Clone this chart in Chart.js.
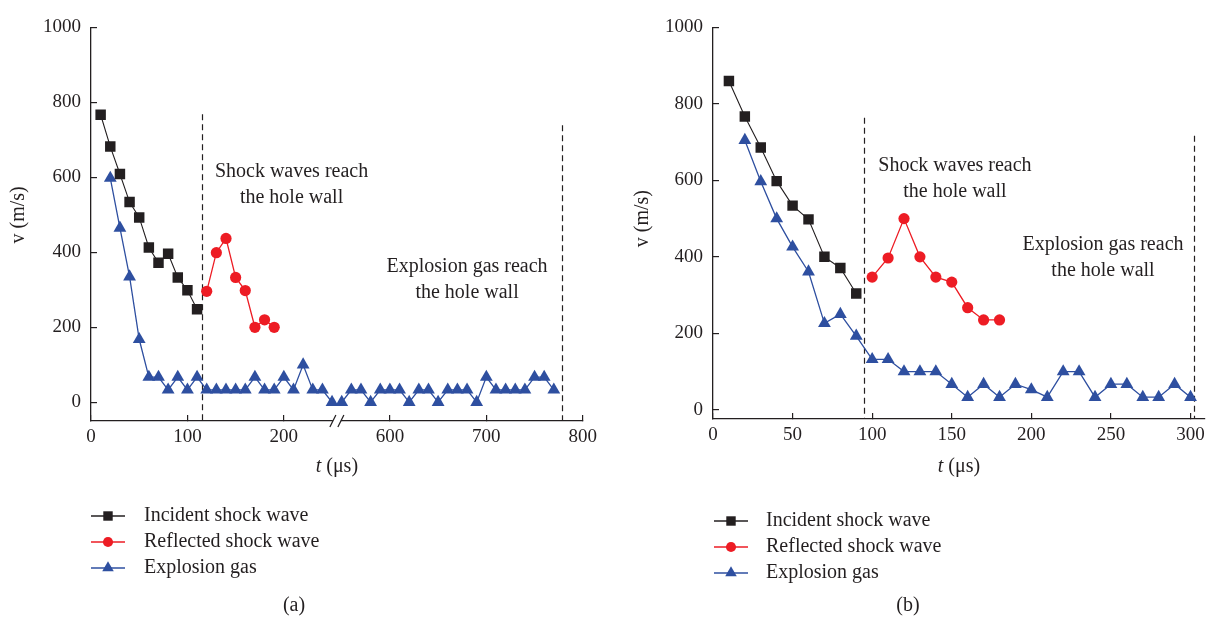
<!DOCTYPE html>
<html>
<head>
<meta charset="utf-8" />
<title>Shock wave and explosion gas velocity</title>
<script src="https://cdn.jsdelivr.net/npm/chart.js@4.4.1/dist/chart.umd.min.js"></script>
<style>
  body { margin: 0; background: #fff; }
  .row { display: flex; width: 1216px; height: 626px; }
  .panel { position: relative; width: 608px; height: 626px; }
</style>
</head>
<body>
<div class="row">
  <div class="panel"><canvas id="chartA"></canvas></div>
  <div class="panel"><canvas id="chartB"></canvas></div>
</div>
<script>
// (a) long record: the time axis is broken between 250 and 550 µs
const incidentTimeA = [10, 20, 30, 40, 50, 60, 70, 80, 90, 100, 110];
const incidentSpeedA = [767, 682, 609, 534, 493, 413, 372, 396, 333, 299, 248];
const reflectedTimeA = [120, 130, 140, 150, 160, 170, 180, 190];
const reflectedSpeedA = [296, 399, 437, 333, 298, 200, 220, 200];
const gasTimeA = [20, 30, 40, 50, 60, 70, 80, 90, 100, 110, 120, 130, 140, 150, 160, 170, 180, 190, 200, 210, 220, 230, 240, 250,
  550, 560, 570, 580, 590, 600, 610, 620, 630, 640, 650, 660, 670, 680, 690, 700, 710, 720, 730, 740, 750, 760, 770];
const gasSpeedA = [598, 465, 335, 168, 67, 67, 33, 67, 33, 67, 33, 33, 33, 33, 33, 67, 33, 33, 67, 33, 100, 33, 33, 0,
  0, 33, 33, 0, 33, 33, 33, 0, 33, 33, 0, 33, 33, 33, 0, 67, 33, 33, 33, 33, 67, 67, 33];
const tickLabelsA = [0, 100, 200, 600, 700, 800];

// (b) short record
const incidentTimeB = [10, 20, 30, 40, 50, 60, 70, 80, 90];
const incidentSpeedB = [860, 767, 686, 598, 534, 498, 400, 371, 304];
const reflectedTimeB = [100, 110, 120, 130, 140, 150, 160, 170, 180];
const reflectedSpeedB = [347, 397, 500, 400, 347, 334, 267, 235, 235];
const gasTimeB = [20, 30, 40, 50, 60, 70, 80, 90, 100, 110, 120, 130, 140, 150, 160, 170, 180, 190, 200, 210,
  220, 230, 240, 250, 260, 270, 280, 290, 300];
const gasSpeedB = [705, 597, 500, 426, 361, 226, 250, 193, 132, 132, 100, 100, 100, 67, 33, 67, 33, 67, 53, 33,
  100, 100, 33, 67, 67, 33, 33, 67, 33];
const tickLabelsB = [0, 50, 100, 150, 200, 250, 300];

const speedTicks = [0, 200, 400, 600, 800, 1000];

const ink = "#231f20";
const serif = "'Liberation Serif', 'Times New Roman', serif";

Chart.defaults.font.family = serif;
Chart.defaults.font.size = 19;
Chart.defaults.color = ink;

// squeeze the empty 250-550 µs stretch of panel (a) into a small gap
const breakFrom = 250;
const breakTo = 550;
const breakGap = 10;
const squeezeA = (t) => (t <= breakFrom ? t : t - (breakTo - breakFrom) + breakGap);
const unsqueezeA = (x) => (x <= breakFrom + breakGap / 2 ? x : x + (breakTo - breakFrom) - breakGap);
const plainX = (t) => t;

const styles = {
  incident: { color: "#231f20", pointStyle: "rect", radius: 7.4, width: 1.1 },
  reflected: { color: "#ed1c24", pointStyle: "circle", radius: 5.6, width: 1.3 },
  gas: { color: "#2e4fa0", pointStyle: "triangle", radius: 7.4, width: 1.3 },
};

function series(label, times, speeds, mapX, style) {
  const points = [];
  times.forEach((t, i) => {
    // leave the line open across the axis break
    if (i > 0 && t - times[i - 1] > 100) {
      points.push({ x: (mapX(times[i - 1]) + mapX(t)) / 2, y: null });
    }
    points.push({ x: mapX(t), y: speeds[i] });
  });
  return {
    label: label,
    data: points,
    borderColor: style.color,
    backgroundColor: style.color,
    pointBackgroundColor: style.color,
    pointBorderWidth: 0,
    pointStyle: style.pointStyle,
    pointRadius: style.radius,
    borderWidth: style.width,
    tension: 0,
    spanGaps: false,
  };
}

// dashed guides, notes, axis titles, axis break and legend
function makeExtras(cfg) {
  return {
    id: "figureExtras",
    beforeDatasetsDraw(chart) {
      const { ctx, chartArea, scales: { x, y } } = chart;
      ctx.save();
      ctx.strokeStyle = ink;
      ctx.lineWidth = 1.2;
      ctx.setLineDash([6, 4]);
      cfg.guides.forEach((g) => {
        const px = Math.round(x.getPixelForValue(cfg.mapX(g.t))) + 0.5;
        ctx.beginPath();
        ctx.moveTo(px, y.getPixelForValue(g.top));
        ctx.lineTo(px, chartArea.bottom);
        ctx.stroke();
      });
      ctx.restore();
    },
    afterDraw(chart) {
      const { ctx, chartArea, scales: { x, y } } = chart;
      const normal = `20px ${serif}`;
      const italic = `italic 20px ${serif}`;
      ctx.save();
      ctx.fillStyle = ink;
      ctx.textBaseline = "middle";
      ctx.textAlign = "center";
      ctx.font = normal;

      cfg.notes.forEach((n) => {
        const px = x.getPixelForValue(cfg.mapX(n.t));
        const py = y.getPixelForValue(n.v);
        n.lines.forEach((line, i) => ctx.fillText(line, px, py + i * 26));
      });

      // y title, centred on the 0-1000 range
      const midY = (y.getPixelForValue(0) + y.getPixelForValue(1000)) / 2;
      ctx.save();
      ctx.translate(cfg.yTitleX, midY);
      ctx.rotate(-Math.PI / 2);
      ctx.fillText("v (m/s)", 0, 0);
      ctx.restore();

      // x title with an italic t
      const cx = (chartArea.left + chartArea.right) / 2;
      ctx.font = italic;
      const wT = ctx.measureText("t").width;
      ctx.font = normal;
      const wRest = ctx.measureText(" (μs)").width;
      const sx = cx - (wT + wRest) / 2;
      ctx.textAlign = "left";
      ctx.font = italic;
      ctx.fillText("t", sx, cfg.xTitleY);
      ctx.font = normal;
      ctx.fillText(" (μs)", sx + wT, cfg.xTitleY);

      if (cfg.breakAt !== undefined) {
        const bx = x.getPixelForValue(cfg.breakAt);
        const by = chartArea.bottom;
        ctx.fillStyle = "#fff";
        ctx.fillRect(bx - 4, by - 2, 8, 4);
        ctx.strokeStyle = ink;
        ctx.lineWidth = 1.2;
        [-4, 4].forEach((dx) => {
          ctx.beginPath();
          ctx.moveTo(bx + dx - 3, by + 6);
          ctx.lineTo(bx + dx + 3, by - 6);
          ctx.stroke();
        });
      }

      const lg = cfg.legend;
      chart.data.datasets.forEach((ds, i) => {
        const ly = lg.top + i * lg.step;
        ctx.strokeStyle = ds.borderColor;
        ctx.lineWidth = 1.4;
        ctx.beginPath();
        ctx.moveTo(lg.left, ly);
        ctx.lineTo(lg.left + 34, ly);
        ctx.stroke();
        ctx.fillStyle = ds.pointBackgroundColor;
        Chart.helpers.drawPoint(
          ctx,
          { pointStyle: ds.pointStyle, radius: ds.pointRadius * 0.9, rotation: 0, borderWidth: 0 },
          lg.left + 17,
          ly
        );
        ctx.fillStyle = ink;
        ctx.font = normal;
        ctx.textAlign = "left";
        ctx.fillText(ds.label, lg.textLeft, ly);
      });
      ctx.restore();
    },
  };
}

function panelOptions(p) {
  return {
    responsive: true,
    maintainAspectRatio: false,
    animation: false,
    events: [],
    layout: {
      padding: { left: 0, right: p.padRight, top: p.padTop, bottom: 0 },
    },
    scales: {
      x: {
        type: "linear",
        min: 0,
        max: p.xMax,
        afterBuildTicks: (scale) => {
          scale.ticks = p.tickLabels.map((v) => ({ value: p.mapX(v) }));
        },
        afterFit: (scale) => {
          scale.height = 60;
        },
        ticks: {
          padding: 11,
          color: ink,
          maxRotation: 0,
          callback: (value) => String(p.unmapX(value)),
        },
        grid: { drawOnChartArea: false, color: ink, lineWidth: 1.2, tickLength: -6 },
        border: { color: ink, width: 1.3 },
      },
      y: {
        min: p.yMin,
        max: 1000,
        afterBuildTicks: (scale) => {
          scale.ticks = speedTicks.map((v) => ({ value: v }));
        },
        afterFit: (scale) => {
          scale.width = p.yAxisWidth;
        },
        ticks: {
          padding: 16,
          color: ink,
          callback: (value) => String(value),
        },
        grid: { drawOnChartArea: false, color: ink, lineWidth: 1.2, tickLength: -6 },
        border: { color: ink, width: 1.3 },
      },
    },
    plugins: {
      legend: { display: false },
      tooltip: { enabled: false },
      title: {
        display: true,
        position: "bottom",
        text: p.caption,
        color: ink,
        font: { size: 20, weight: "normal" },
        padding: { top: p.captionGap, bottom: 8 },
      },
    },
  };
}

const chartA = new Chart(document.getElementById("chartA"), {
  type: "line",
  data: {
    datasets: [
      series("Incident shock wave", incidentTimeA, incidentSpeedA, squeezeA, styles.incident),
      series("Reflected shock wave", reflectedTimeA, reflectedSpeedA, squeezeA, styles.reflected),
      series("Explosion gas", gasTimeA, gasSpeedA, squeezeA, styles.gas),
    ],
  },
  options: panelOptions({
    xMax: squeezeA(800),
    yMin: -50,
    yAxisWidth: 91,
    padRight: 20,
    padTop: 19,
    captionGap: 113,
    caption: "(a)",
    tickLabels: tickLabelsA,
    mapX: squeezeA,
    unmapX: unsqueezeA,
  }),
  plugins: [
    makeExtras({
      mapX: squeezeA,
      breakAt: breakFrom + breakGap / 2,
      guides: [
        { t: 115, top: 768 },
        { t: 778, top: 739 },
      ],
      notes: [
        { t: 208, v: 614, lines: ["Shock waves reach", "the hole wall"] },
        { t: 680, v: 362, lines: ["Explosion gas reach", "the hole wall"] },
      ],
      yTitleX: 19,
      xTitleY: 467,
      legend: { left: 91, top: 516, step: 26, textLeft: 144 },
    }),
  ],
});

const chartB = new Chart(document.getElementById("chartB"), {
  type: "line",
  data: {
    datasets: [
      series("Incident shock wave", incidentTimeB, incidentSpeedB, plainX, styles.incident),
      series("Reflected shock wave", reflectedTimeB, reflectedSpeedB, plainX, styles.reflected),
      series("Explosion gas", gasTimeB, gasSpeedB, plainX, styles.gas),
    ],
  },
  options: panelOptions({
    xMax: 309,
    yMin: -24,
    yAxisWidth: 105,
    padRight: 8,
    padTop: 24,
    captionGap: 115,
    caption: "(b)",
    tickLabels: tickLabelsB,
    mapX: plainX,
    unmapX: plainX,
  }),
  plugins: [
    makeExtras({
      mapX: plainX,
      guides: [
        { t: 95, top: 764 },
        { t: 302, top: 717 },
      ],
      notes: [
        { t: 152, v: 639, lines: ["Shock waves reach", "the hole wall"] },
        { t: 245, v: 431, lines: ["Explosion gas reach", "the hole wall"] },
      ],
      yTitleX: 35,
      xTitleY: 467,
      legend: { left: 106, top: 521, step: 26, textLeft: 158 },
    }),
  ],
});
</script>
</body>
</html>
